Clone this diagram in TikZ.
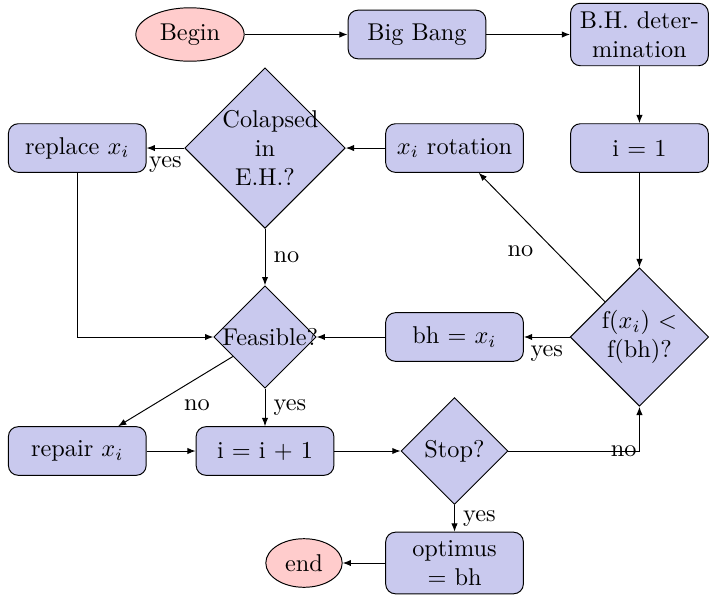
\documentclass[tikz,border=0pt]{standalone}
\usepackage{tikz}
\usetikzlibrary{arrows.meta,shapes.geometric}
\definecolor{boxblue}{RGB}{201,201,238}
\definecolor{termred}{RGB}{255,204,204}

\begin{document}
\begin{tikzpicture}[
    block/.style={rectangle, draw, fill=boxblue, text width=5em, text centered, rounded corners, minimum height=2em},
    decision/.style={diamond, draw, fill=boxblue, text width=3.5em, text badly centered, inner sep=0pt},
    cloud/.style={ellipse, draw, fill=termred, minimum height=2em},
    line/.style={draw, -{Latex[length=3.4pt,width=2.6pt]}}
]
% Big bang -- big crunch flowchart
\def\colA{1.118}
\def\colB{3.833}
\def\colC{6.574}
\def\colD{9.249}
\def\rowA{-0.499}
\def\rowB{-2.141}
\def\rowC{-4.874}
\def\rowD{-6.523}
\def\rowE{-8.143}

\useasboundingbox (0,0) rectangle (10.255,-8.620);

% Nodes
\node[cloud] (begin) at (2.748,\rowA) {Begin};
\node[block] (bigbang) at (6.031,\rowA) {Big Bang};
\node[block] (bhdet) at (\colD,\rowA) {B.H. determination};

\node[block] (replace) at (\colA,\rowB) {replace $x_i$};
\node[decision] (collapsed) at (\colB,\rowB) {Colapsed in E.H.?};
\node[block] (rotation) at (\colC,\rowB) {$x_i$ rotation};
\node[block] (init) at (\colD,\rowB) {i = 1};

\node[decision] (feasible) at (\colB,\rowC) {Feasible?};
\node[block] (update) at (\colC,\rowC) {bh = $x_i$};
\node[decision] (compare) at (\colD,\rowC) {f($x_i$) $<$ f(bh)?};

\node[block] (repair) at (\colA,\rowD) {repair $x_i$};
\node[block] (incr) at (\colB,\rowD) {i = i + 1};
\node[decision] (stop) at (\colC,\rowD) {Stop?};

\node[cloud] (finish) at (4.397,\rowE) {end};
\node[block] (optimus) at (\colC,\rowE) {optimus = bh};

% Connectors
\path[line] (begin) -- (bigbang);
\path[line] (bigbang) -- (bhdet);
\path[line] (bhdet) -- (init);
\path[line] (init) -- (compare);
\path[line] (compare) -- node[below left] {no} (rotation);
\path[line] (compare) -- node[below] {yes} (update);
\path[line] (rotation) -- (collapsed);
\path[line] (collapsed) -- node[below] {yes} (replace);
\path[line] (collapsed) -- node[right] {no} (feasible);
\path[line] (replace) |- (feasible);
\path[line] (update) -- (feasible);
\path[line] (feasible) -- node[below right] {no} (repair);
\path[line] (feasible) -- node[right] {yes} (incr);
\path[line] (repair) -- (incr);
\path[line] (incr) -- (stop);
\path[line] (stop) -| node[pos=0.44] {no} (compare);
\path[line] (stop) -- node[right] {yes} (optimus);
\path[line] (optimus) -- (finish);

\end{tikzpicture}
\end{document}
